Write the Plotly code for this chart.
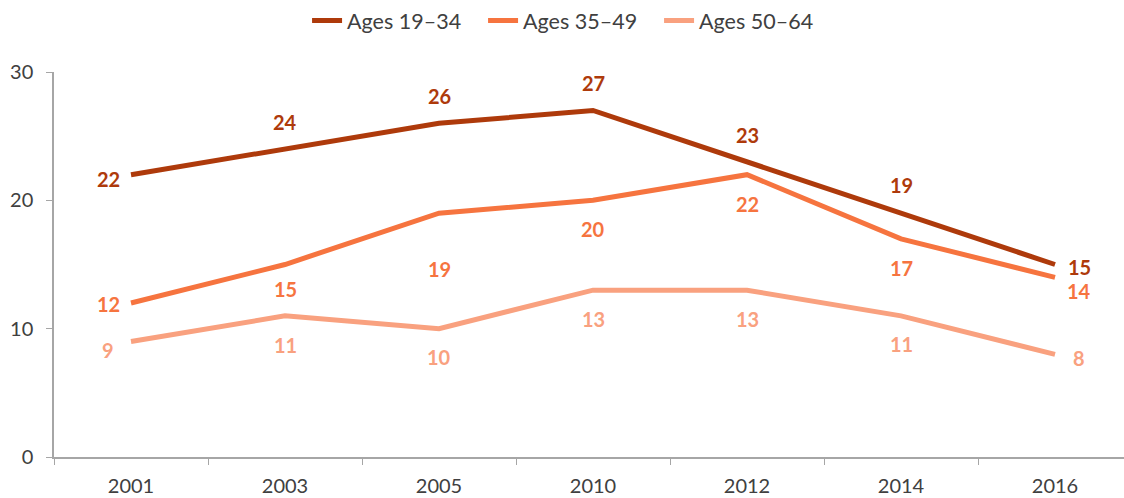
import plotly.graph_objects as go

years = ["2001", "2003", "2005", "2010", "2012", "2014", "2016"]
ages_19_34 = [22, 24, 26, 27, 23, 19, 15]
ages_35_49 = [12, 15, 19, 20, 22, 17, 14]
ages_50_64 = [9, 11, 10, 13, 13, 11, 8]
series_names = ["Ages 19\u201334", "Ages 35\u201349", "Ages 50\u201364"]
y_ticks = [0, 10, 20, 30]

colors = ["#AE3A0B", "#F6743F", "#F9A17F"]
# label offsets (xshift, yshift) in pixels per point
offsets = [
    [(-23, -4), (0, 27), (0, 27), (0, 28), (0, 27), (0, 28), (24, -2)],
    [(-23, -1), (0, -24), (0, -56), (0, -29), (0, -29), (0, -29), (24, -14)],
    [(-23, -8), (0, -29), (0, -28), (0, -29), (0, -29), (0, -28), (24, -4)],
]

fig = go.Figure()
annotations = []
for name, vals, col, offs in zip(series_names, [ages_19_34, ages_35_49, ages_50_64], colors, offsets):
    fig.add_trace(go.Scatter(x=years, y=vals, mode="lines", name=name,
                             line=dict(color=col, width=5)))
    for i, (yv, (dx, dy)) in enumerate(zip(vals, offs)):
        annotations.append(dict(x=i, y=yv, xref="x", yref="y", text=f"<b>{yv}</b>",
                                showarrow=False, xshift=dx, yshift=dy,
                                font=dict(size=20, color=col, family="Lato")))

fig.update_layout(
    width=1124, height=498,
    margin=dict(l=54, r=0, t=70, b=41),
    paper_bgcolor="white", plot_bgcolor="white",
    font=dict(family="Lato", color="#404040"),
    showlegend=True,
    legend=dict(orientation="h", x=0.2365, xanchor="left", y=1.134, yanchor="middle",
                font=dict(size=21.5, color="#404040"), entrywidth=131,
                tracegroupgap=0, bgcolor="rgba(0,0,0,0)"),
    annotations=annotations,
)
fig.update_xaxes(type="category", range=[-0.5, 6.448], showline=True, linecolor="#A6A6A6",
                 linewidth=1.5, ticks="outside", tickson="boundaries", ticklen=6,
                 tickcolor="#A6A6A6", showgrid=False, zeroline=False,
                 ticklabelstandoff=10,
                 tickfont=dict(size=20, color="#404040"))
fig.update_yaxes(range=[0, 30], tickvals=y_ticks, showline=True, linecolor="#A6A6A6",
                 linewidth=1.5, ticks="outside", ticklen=6, tickcolor="#A6A6A6",
                 showgrid=False, zeroline=False, ticklabelstandoff=9,
                 tickfont=dict(size=20, color="#404040"))

fig.write_html("out.html", config={"displayModeBar": False},
               post_script="document.body.style.margin='0';")
